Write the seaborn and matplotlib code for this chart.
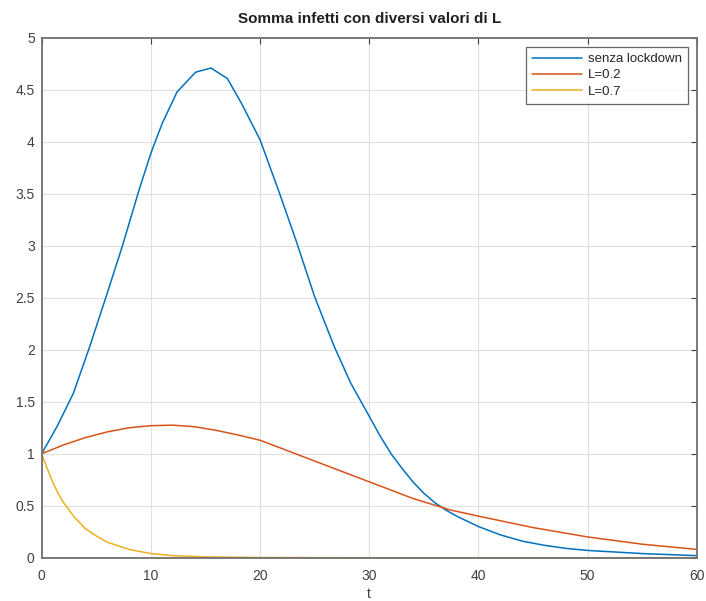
import matplotlib
matplotlib.use("Agg")
import matplotlib.pyplot as plt
import seaborn as sns
import pandas as pd

# Data
t_blue = [0, 1.4, 2.9, 4.4, 5.9, 7.4, 8.9, 10, 11.05, 12.4, 14.1, 15.5, 17.0, 18.3, 20,
          21.7, 23.3, 25, 26.8, 28.3, 30, 31, 32, 33, 34, 35, 36, 37, 38, 40, 42, 44,
          46, 48, 50, 55, 60]
v_blue = [1.0, 1.26, 1.58, 2.03, 2.51, 3.0, 3.53, 3.89, 4.18, 4.48, 4.67, 4.71, 4.61, 4.37, 4.02,
          3.53, 3.05, 2.51, 2.03, 1.68, 1.36, 1.17, 1.0, 0.86, 0.73, 0.62, 0.53, 0.46, 0.40,
          0.30, 0.22, 0.16, 0.12, 0.09, 0.07, 0.04, 0.02]

t_orange = [0, 2, 4, 6, 8, 10, 12, 14, 16, 18, 20, 22, 24, 27, 30, 34, 37.4, 40, 45, 50, 55, 60]
v_orange = [1.0, 1.085, 1.155, 1.21, 1.25, 1.27, 1.275, 1.26, 1.225, 1.18, 1.13, 1.05, 0.97,
            0.85, 0.73, 0.57, 0.46, 0.40, 0.29, 0.20, 0.13, 0.08]

t_yellow = [0, 0.5, 1, 1.5, 2, 3, 4, 5, 6, 8, 10, 12, 15, 20, 30, 60]
v_yellow = [1.0, 0.86, 0.73, 0.62, 0.53, 0.39, 0.28, 0.21, 0.15, 0.08, 0.04, 0.02, 0.008,
            0.002, 0.0, 0.0]

labels = ["senza lockdown", "L=0.2", "L=0.7"]
colors = ["#0072BD", "#D95319", "#EDB120"]

title = "Somma infetti con diversi valori di L"
xlabel = "t"
xticks = [0, 10, 20, 30, 40, 50, 60]
yticks = [0, 0.5, 1, 1.5, 2, 2.5, 3, 3.5, 4, 4.5, 5]

df = pd.concat([
    pd.DataFrame({"t": t_blue, "v": v_blue, "s": labels[0]}),
    pd.DataFrame({"t": t_orange, "v": v_orange, "s": labels[1]}),
    pd.DataFrame({"t": t_yellow, "v": v_yellow, "s": labels[2]}),
], ignore_index=True)

sns.set_style("white")
plt.rcParams["font.family"] = ["Liberation Sans", "DejaVu Sans"]

fig = plt.figure(figsize=(7.06, 6.01), dpi=100)
ax = fig.add_axes([0.059, 0.072, 0.928, 0.865])

sns.lineplot(data=df, x="t", y="v", hue="s", hue_order=labels, palette=colors,
             sort=False, estimator=None, linewidth=1.1, ax=ax)

ax.set_xlim(0, 60)
ax.set_ylim(0, 5)
ax.set_xticks(xticks)
ax.set_yticks(yticks)
ax.set_xticklabels([str(x) for x in xticks])
ax.set_yticklabels([f"{y:g}" for y in yticks])
ax.grid(True, color="#e0e0e0", linewidth=0.8)
ax.set_axisbelow(True)
for sp in ax.spines.values():
    sp.set_visible(True)
    sp.set_color("#707070")
    sp.set_linewidth(1.3)
ax.tick_params(direction="in", length=4, width=0.8, color="#404040",
               top=True, right=True, labelsize=10, labelcolor="#404040")
ax.tick_params(axis="x", pad=8)
ax.tick_params(axis="y", pad=5)
ax.set_xlabel(xlabel, fontsize=10, color="#404040", labelpad=3)
ax.set_ylabel("")
ax.set_title(title, fontsize=11, fontweight="bold", color="#202020", pad=11)

leg = ax.legend(loc="upper right", fontsize=9.5, frameon=True, fancybox=False,
                handlelength=3.8, borderaxespad=0.7, labelspacing=0.3,
                borderpad=0.45, handletextpad=0.4)
leg.get_frame().set_edgecolor("#404040")
leg.get_frame().set_linewidth(0.9)
leg.set_title(None)

fig.savefig("out.png", dpi=100)
